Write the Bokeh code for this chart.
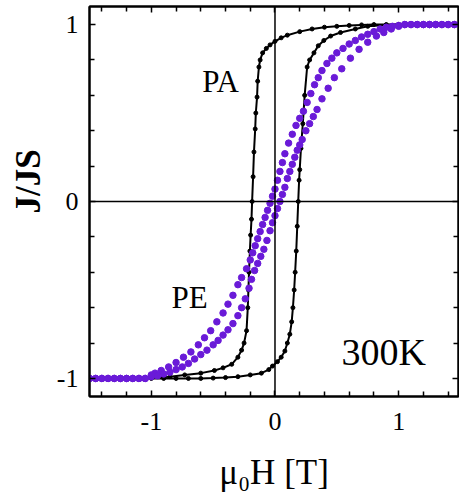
from bokeh.plotting import figure
from bokeh.models import Range1d, FixedTicker, LinearAxis, Span, Label, Title
from bokeh.embed import file_html
from bokeh.resources import INLINE

# PE sample (purple), descending-field branch
pe_dn_x = [1.50, 1.45, 1.40, 1.35, 1.30, 1.25, 1.20, 1.15, 1.10, 1.05, 1.00, 0.95, 0.90, 0.85,
           0.80, 0.75, 0.70, 0.65, 0.60, 0.55, 0.50, 0.46, 0.42, 0.38, 0.35, 0.32, 0.29, 0.26,
           0.23, 0.20, 0.17, 0.14, 0.11, 0.08, 0.06, 0.04, 0.02, 0.00, -0.02, -0.04, -0.06,
           -0.08, -0.10, -0.12, -0.14, -0.16, -0.18, -0.20, -0.23, -0.27, -0.30, -0.34, -0.38,
           -0.42, -0.47, -0.52, -0.57, -0.62, -0.68, -0.74, -0.80, -0.86, -0.92, -0.97, -1.00,
           -1.05, -1.10, -1.15, -1.20, -1.25, -1.30, -1.35, -1.40, -1.45, -1.50]
pe_dn_y = [1.0, 1.0, 1.0, 1.0, 1.0, 1.0, 1.0, 1.0, 1.0, 1.0, 0.995, 0.99, 0.985, 0.975,
           0.96, 0.945, 0.93, 0.91, 0.89, 0.865, 0.84, 0.81, 0.78, 0.74, 0.70, 0.66, 0.61, 0.56,
           0.51, 0.47, 0.43, 0.38, 0.33, 0.27, 0.22, 0.17, 0.12, 0.07, 0.03, -0.01, -0.05,
           -0.09, -0.13, -0.17, -0.21, -0.25, -0.29, -0.33, -0.38, -0.43, -0.47, -0.53, -0.58,
           -0.63, -0.68, -0.73, -0.77, -0.81, -0.85, -0.88, -0.91, -0.935, -0.955, -0.97, -0.98,
           -1.0, -1.0, -1.0, -1.0, -1.0, -1.0, -1.0, -1.0, -1.0, -1.0]

# PE sample (purple), ascending-field branch
pe_up_x = [-1.50, -1.45, -1.40, -1.35, -1.30, -1.25, -1.20, -1.15, -1.10, -1.05, -1.00, -0.95,
           -0.90, -0.85, -0.80, -0.75, -0.70, -0.65, -0.60, -0.55, -0.50, -0.46, -0.42, -0.38,
           -0.34, -0.30, -0.27, -0.24, -0.21, -0.19, -0.165, -0.14, -0.115, -0.09, -0.065, -0.04,
           -0.02, 0.00, 0.02, 0.04, 0.06, 0.08, 0.10, 0.12, 0.14, 0.16, 0.18, 0.20, 0.22, 0.25,
           0.28, 0.31, 0.34, 0.38, 0.43, 0.48, 0.54, 0.61, 0.68, 0.75, 0.82, 0.88, 0.94, 1.00,
           1.05, 1.10, 1.15, 1.20, 1.25, 1.30, 1.35, 1.40, 1.45, 1.50]
pe_up_y = [-1.0, -1.0, -1.0, -1.0, -1.0, -1.0, -1.0, -1.0, -1.0, -1.0, -0.99, -0.985,
           -0.975, -0.965, -0.95, -0.935, -0.915, -0.89, -0.865, -0.84, -0.81, -0.785, -0.755, -0.725,
           -0.69, -0.645, -0.60, -0.55, -0.49, -0.44, -0.39, -0.35, -0.31, -0.27, -0.22, -0.165,
           -0.12, -0.08, -0.04, 0.00, 0.04, 0.08, 0.13, 0.17, 0.21, 0.25, 0.29, 0.32, 0.35, 0.40,
           0.44, 0.48, 0.52, 0.58, 0.64, 0.70, 0.75, 0.81, 0.86, 0.90, 0.935, 0.955, 0.975, 0.99,
           1.0, 1.0, 1.0, 1.0, 1.0, 1.0, 1.0, 1.0, 1.0, 1.0]

# PA sample (black), descending-field branch
pa_dn_x = [1.50, 1.40, 1.30, 1.20, 1.10, 1.00, 0.90, 0.80, 0.70, 0.60, 0.50, 0.40, 0.30, 0.20,
           0.10, 0.05, 0.00, -0.04, -0.07, -0.10, -0.12, -0.13, -0.14, -0.145, -0.155, -0.16,
           -0.17, -0.177, -0.185, -0.19, -0.197, -0.203, -0.21, -0.215, -0.22, -0.23, -0.25,
           -0.27, -0.30, -0.35, -0.42, -0.49, -0.60, -0.73, -0.85, -1.00, -1.10, -1.20, -1.30,
           -1.40, -1.50]
pa_dn_y = [1.0, 1.0, 1.0, 1.0, 1.0, 1.0, 1.0, 1.0, 0.998, 0.995, 0.99, 0.985, 0.975, 0.96,
           0.94, 0.925, 0.905, 0.885, 0.865, 0.84, 0.80, 0.76, 0.68, 0.59, 0.50, 0.41,
           0.28, 0.14, 0.0, -0.10, -0.19, -0.28, -0.40, -0.50, -0.60, -0.73, -0.80,
           -0.84, -0.88, -0.92, -0.94, -0.955, -0.97, -0.98, -0.99, -0.995, -1.0, -1.0, -1.0,
           -1.0, -1.0]

# PA sample (black), ascending-field branch
pa_up_x = [-1.50, -1.40, -1.30, -1.20, -1.10, -1.00, -0.90, -0.80, -0.70, -0.60, -0.50, -0.40,
           -0.30, -0.20, -0.11, -0.05, -0.02, 0.02, 0.05, 0.08, 0.10, 0.12, 0.135, 0.145, 0.155,
           0.163, 0.172, 0.18, 0.188, 0.195, 0.20, 0.21, 0.225, 0.24, 0.26, 0.28, 0.315, 0.35,
           0.395, 0.45, 0.53, 0.65, 0.75, 0.90, 1.00, 1.10, 1.20, 1.30, 1.40, 1.50]
pa_up_y = [-1.0, -1.0, -1.0, -1.0, -1.0, -1.0, -1.0, -1.0, -1.0, -1.0, -0.998, -0.995,
           -0.99, -0.98, -0.97, -0.95, -0.93, -0.905, -0.88, -0.845, -0.80, -0.75, -0.68, -0.60, -0.50,
           -0.40, -0.28, -0.14, 0.0, 0.12, 0.18, 0.30, 0.44, 0.60, 0.76, 0.80, 0.84, 0.88,
           0.91, 0.935, 0.955, 0.975, 0.99, 0.997, 1.0, 1.0, 1.0, 1.0, 1.0, 1.0]

x_major = [-1, 0, 1]
x_minor = [-1.4, -1.2, -0.8, -0.6, -0.4, -0.2, 0.2, 0.4, 0.6, 0.8, 1.2, 1.4]
y_major = [-1, 0, 1]
y_minor = [-0.8, -0.6, -0.4, -0.2, 0.2, 0.4, 0.6, 0.8]

FONT = "Liberation Serif"
PURPLE = "#6a1ad8"

p = figure(width=459, height=502, output_backend="svg", toolbar_location=None,
           x_range=Range1d(-1.5, 1.484), y_range=Range1d(-1.102, 1.102),
           min_border_left=89, min_border_right=1, min_border_top=6, min_border_bottom=106,
           x_axis_location=None, y_axis_location=None)
p.grid.visible = False
p.background_fill_color = "white"
p.border_fill_color = "white"
p.outline_line_color = "black"
p.outline_line_width = 2


def style_axis(ax, ticks, minor, show_labels):
    ax.ticker = FixedTicker(ticks=ticks, minor_ticks=minor)
    ax.axis_line_color = "black"
    ax.axis_line_width = 2
    ax.major_tick_in = 6
    ax.major_tick_out = 0
    ax.minor_tick_in = 5
    ax.minor_tick_out = 0
    ax.major_tick_line_width = 1.5
    ax.minor_tick_line_width = 1.5
    if show_labels:
        ax.major_label_text_font = FONT
        ax.major_label_text_font_size = "26px"
        ax.major_label_text_color = "black"
        ax.major_label_overrides = {-1: "-1", 0: "0", 1: "1"}
        ax.axis_label_text_font = FONT
        ax.axis_label_text_font_style = "normal"
        ax.axis_label_text_color = "black"
    else:
        ax.major_label_overrides = {-1: "", 0: "", 1: ""}
        ax.major_label_text_font_size = "0px"
        ax.major_label_standoff = 0


xb = LinearAxis(axis_label="\u03bc\u2080H [T]")
style_axis(xb, x_major, x_minor, True)
xb.major_label_standoff = 16
xb.axis_label_standoff = 20
xb.axis_label_text_font_size = "35px"
p.add_layout(xb, "below")
xt = LinearAxis()
style_axis(xt, x_major, x_minor, False)
p.add_layout(xt, "above")
yl = LinearAxis()
style_axis(yl, y_major, y_minor, True)
yl.major_label_standoff = 11
yl.major_label_orientation = "horizontal"
p.add_layout(yl, "left")
yr = LinearAxis()
style_axis(yr, y_major, y_minor, False)
p.add_layout(yr, "right")

# y-axis title, shifted upward like the reference
p.add_layout(Title(text="J/JS", align="left", offset=183, standoff=12,
                   text_font=FONT, text_font_size="35px", text_font_style="bold",
                   text_color="black"), "left")

p.add_layout(Span(location=0, dimension="width", line_color="black", line_width=1.5))
p.add_layout(Span(location=0, dimension="height", line_color="black", line_width=1.5))

# PA loop (black line with small dots)
p.line(pa_dn_x, pa_dn_y, line_color="black", line_width=2)
p.line(pa_up_x, pa_up_y, line_color="black", line_width=2)
p.scatter(pa_dn_x, pa_dn_y, size=4, color="black")
p.scatter(pa_up_x, pa_up_y, size=4, color="black")

# PE loop (purple dots)
p.scatter(pe_dn_x, pe_dn_y, size=6.5, color=PURPLE)
p.scatter(pe_up_x, pe_up_y, size=6.5, color=PURPLE)

# In-plot labels
p.add_layout(Label(x=-0.44, y=0.68, text="PA", text_font=FONT, text_font_size="31px",
                   text_align="center", text_baseline="middle", text_color="black"))
p.add_layout(Label(x=-0.69, y=-0.54, text="PE", text_font=FONT, text_font_size="31px",
                   text_align="center", text_baseline="middle", text_color="black"))
p.add_layout(Label(x=0.88, y=-0.85, text="300K", text_font=FONT, text_font_size="38px",
                   text_align="center", text_baseline="middle", text_color="black"))

open("out.html", "w").write(file_html(p, INLINE))
